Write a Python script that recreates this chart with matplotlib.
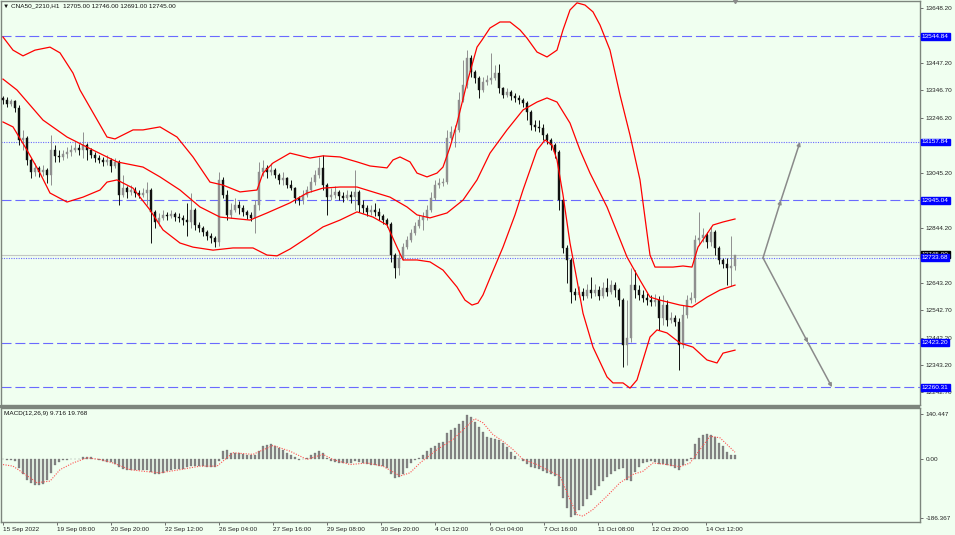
import matplotlib
matplotlib.use("Agg")
import matplotlib.pyplot as plt
from matplotlib.patches import Rectangle
import numpy as np

plt.rcParams["font.family"] = ["Liberation Sans", "DejaVu Sans"]

# ---------------------------------------------------------------------------
# Data (CNA50_2210, H1, 15 Sep - 14 Oct 2022)
# ---------------------------------------------------------------------------
first_open = 13319

close = [
    13311, 13297, 13308, 13282, 13165, 13172, 13092, 13048, 13063, 13048,
    13055, 13037, 13128, 13107, 13103, 13114, 13121, 13128, 13136, 13128,
    13147, 13128, 13110, 13099, 13092, 13085, 13092, 13070, 13085, 12964,
    12989, 12975, 12982, 12971, 12964, 12971, 12982, 12902, 12865, 12880,
    12891, 12887, 12894, 12883, 12880, 12872, 12865, 12909, 12854, 12843,
    12828, 12814, 12807, 12792, 13019, 12964, 12891, 12909, 12927, 12916,
    12902, 12891, 12880, 12927, 13048, 13063, 13048, 13055, 13037, 13019,
    13026, 13000, 12989, 12953, 12945, 12964, 12982, 13011, 13037, 13063,
    13000, 12956, 12964, 12975, 12960, 12953, 12964, 12956, 12975, 12927,
    12916, 12902, 12909, 12902, 12887, 12872, 12858, 12744, 12697, 12733,
    12773, 12799, 12825, 12850, 12872, 12883, 12909, 12953, 13000, 13008,
    13011, 13172, 13194, 13202, 13311, 13366, 13465, 13414, 13392, 13348,
    13377, 13385, 13392, 13410, 13355, 13330, 13341, 13326, 13319, 13311,
    13300, 13268, 13220, 13213, 13209, 13183, 13165, 13147, 13121, 12945,
    12770, 12726, 12609, 12598, 12609, 12594, 12616, 12605, 12616, 12594,
    12623, 12609, 12634, 12616, 12579, 12415, 12440, 12634, 12616, 12598,
    12587, 12579, 12572, 12579, 12514, 12561, 12506, 12514, 12499, 12415,
    12525, 12579, 12587, 12799, 12807, 12817, 12792, 12828, 12770, 12726,
    12711, 12697, 12705, 12745,
]

high = [
    13326, 13322, 13315, 13311, 13293, 13202, 13180, 13099, 13081, 13070,
    13074, 13063, 13183, 13147, 13128, 13128, 13139, 13147, 13158, 13150,
    13194, 13154, 13136, 13121, 13110, 13103, 13110, 13099, 13099, 13092,
    13037, 12997, 13000, 12993, 12982, 12989, 13011, 12989, 12909, 12898,
    12909, 12902, 12909, 12902, 12898, 12891, 12935, 12971, 12916, 12865,
    12850, 12836, 12825, 12814, 13048, 13030, 12982, 12935, 12953, 12942,
    12927, 12909, 12902, 12945, 13085, 13092, 13074, 13081, 13063, 13044,
    13048, 13030, 13019, 12993, 12960, 12982, 12997, 13030, 13055, 13103,
    13110, 13008, 12989, 12997, 12982, 12975, 12982, 12978, 13055, 12982,
    12945, 12927, 12927, 12935, 12916, 12894, 12880, 12865, 12752, 12762,
    12788, 12814, 12839, 12865, 12891, 12902, 12927, 12975, 13019, 13026,
    13026, 13202, 13216, 13220, 13341, 13458, 13494, 13476, 13421, 13399,
    13396, 13403, 13483, 13440, 13443, 13359, 13355, 13348, 13337, 13330,
    13319, 13308, 13275, 13238, 13238, 13224, 13191, 13172, 13154, 13128,
    12953, 12781, 12733, 12623, 12631, 12623, 12638, 12664, 12638, 12631,
    12645, 12660, 12652, 12645, 12623, 12587, 12579, 12697, 12689, 12634,
    12616, 12605, 12598, 12601, 12594, 12598, 12579, 12536, 12525, 12514,
    12561, 12598, 12609, 12817, 12902, 12843, 12828, 12847, 12836, 12777,
    12733, 12733, 12814, 12746,
]

low = [
    13297, 13286, 13290, 13268, 13147, 13128, 13074, 13026, 13033, 13030,
    13033, 13008, 13000, 13085, 13085, 13092, 13099, 13107, 13121, 13110,
    13099, 13092, 13099, 13085, 13081, 13070, 13074, 13048, 13063, 12927,
    12956, 12953, 12964, 12956, 12953, 12956, 12927, 12788, 12843, 12850,
    12872, 12872, 12880, 12869, 12865, 12854, 12814, 12843, 12836, 12828,
    12814, 12799, 12788, 12773, 12777, 12953, 12872, 12880, 12902, 12894,
    12887, 12876, 12869, 12825, 12909, 13033, 13026, 13037, 13026, 13004,
    13000, 12989, 12982, 12935, 12927, 12931, 12956, 12975, 13000, 13026,
    12982, 12891, 12945, 12953, 12945, 12938, 12945, 12935, 12909, 12902,
    12898, 12887, 12891, 12887, 12872, 12858, 12847, 12719, 12660, 12671,
    12726, 12766, 12792, 12817, 12843, 12836, 12872, 12902, 12945, 12989,
    12997, 13004, 13165, 13139, 13194, 13304, 13355, 13396, 13374, 13319,
    13341, 13366, 13370, 13385, 13337, 13319, 13322, 13311, 13304, 13297,
    13286, 13238, 13202, 13198, 13194, 13165, 13150, 13128, 13099, 12909,
    12752, 12642, 12568, 12579, 12590, 12579, 12587, 12587, 12594, 12579,
    12587, 12594, 12601, 12590, 12557, 12334, 12342, 12426, 12587, 12579,
    12572, 12561, 12557, 12557, 12470, 12488, 12484, 12495, 12484, 12323,
    12404, 12514, 12568, 12572, 12781, 12792, 12770, 12777, 12744, 12711,
    12697, 12634, 12631, 12691,
]

# Bollinger band readings: (bar, price)
upper_band = [
    (0, 13542), (2.5, 13494), (5, 13473), (8, 13494), (11.75, 13505),
    (14.25, 13484), (17.5, 13410), (19.25, 13348), (26, 13176), (28, 13169),
    (32.5, 13202), (35, 13202), (39.25, 13213), (43.5, 13176), (47.5, 13103),
    (51.75, 13011), (55, 13000), (59.25, 12975), (63.5, 12982), (65, 13044),
    (67.5, 13081), (71.75, 13117), (76.75, 13099), (80, 13107), (84.25, 13103),
    (88.5, 13085), (91.75, 13070), (96, 13063), (97.5, 13092), (99.25, 13103),
    (101.75, 13085), (103.5, 13044), (106, 13030), (108.5, 13044), (110, 13066),
    (111.75, 13139), (113.5, 13227), (116, 13374), (118.5, 13505), (119.75, 13531),
    (121.75, 13575), (124.25, 13597), (126.75, 13597), (129.25, 13568), (131, 13538),
    (133.5, 13487), (136, 13469), (138.5, 13494), (140, 13568), (141.75, 13641),
    (143.5, 13667), (145.5, 13659), (147.5, 13634), (149.25, 13586), (151.75, 13494),
    (154.25, 13330), (156.75, 13183), (159.25, 13019), (161, 12825), (161.75, 12744),
    (163, 12700), (167.5, 12700), (170, 12704), (172.25, 12700), (173.75, 12773),
    (177.5, 12854), (180, 12865), (183, 12876),
]
middle_band = [
    (0, 13388), (3.5, 13348), (10, 13238), (16, 13176), (21, 13139),
    (28.5, 13085), (35, 13066), (39.25, 13030), (44.25, 12982), (49.25, 12920),
    (54.25, 12883), (61.75, 12872), (66, 12898), (71.75, 12935), (76, 12971),
    (80, 12989), (84.25, 12993), (88.5, 12993), (92.5, 12975), (96.75, 12956),
    (101, 12920), (103.5, 12891), (106.75, 12880), (111, 12898), (115, 12945),
    (118.5, 13019), (121.75, 13117), (126, 13202), (130, 13275), (133.5, 13304),
    (136, 13319), (138.5, 13304), (141.75, 13227), (144.25, 13128), (146.75, 13044),
    (151, 12920), (156, 12737), (159.25, 12652), (161.75, 12590), (164.25, 12579),
    (169.25, 12561), (172.25, 12554), (176, 12590), (179.25, 12616), (183, 12634),
]
lower_band = [
    (0, 13231), (2.5, 13213), (6, 13128), (9.25, 13044), (11.75, 12971),
    (16, 12938), (20, 12956), (24.25, 12982), (26, 13011), (28.5, 13019),
    (32.5, 12989), (36.75, 12909), (40, 12836), (44.25, 12788), (47.5, 12773),
    (52.5, 12762), (57.5, 12770), (62.5, 12770), (66, 12744), (68.5, 12741),
    (71.75, 12766), (76, 12807), (80, 12847), (84.25, 12872), (88.5, 12902),
    (92.5, 12883), (96, 12854), (98.5, 12773), (100, 12726), (103.5, 12726),
    (106.75, 12719), (110, 12689), (113.5, 12627), (115.5, 12579), (117.25, 12561),
    (118.75, 12568), (120, 12598), (121.75, 12660), (125, 12773), (128, 12891),
    (130, 12982), (133.5, 13128), (135.5, 13165), (137.25, 13147), (138.5, 13092),
    (140, 12964), (141.75, 12788), (143.5, 12652), (145, 12531), (147.5, 12407),
    (151, 12298), (152.5, 12276), (155, 12276), (156.75, 12257), (158.5, 12287),
    (160, 12360), (161.75, 12444), (163.5, 12470), (166, 12459), (169.25, 12422),
    (172.5, 12407), (176, 12360), (178.5, 12349), (180, 12385), (183, 12396),
]

# MACD(12,26,9) main line, one value per bar
macd_hist = [
    -3, -4, -5, -8, -30, -50, -68, -78, -82, -82,
    -80, -68, -45, -20, -10, -6, -4, -3, -2, 0,
    4, 5, 4, 0, -5, -8, -10, -12, -16, -26,
    -32, -36, -37, -36, -35, -35, -37, -42, -48, -50,
    -45, -38, -36, -34, -34, -32, -28, -24, -24, -24,
    -25, -26, -27, -26, -8, 25, 28, 18, 17, 16,
    15, 12, 10, 12, 22, 38, 43, 44, 40, 32,
    26, 18, 10, 4, -4, -3, 2, 10, 18, 22,
    16, 2, -8, -12, -13, -14, -14, -13, -8, -10,
    -14, -18, -20, -20, -22, -24, -30, -50, -60, -58,
    -48, -30, -15, -5, 2, 12, 25, 32, 40, 48,
    52, 80, 90, 95, 108, 118, 138, 130, 115, 98,
    82, 68, 64, 62, 58, 50, 36, 20, 8, 0,
    -8, -18, -26, -30, -34, -40, -45, -48, -55, -85,
    -125, -155, -184, -176, -162, -148, -128, -115, -100, -85,
    -70, -58, -48, -38, -32, -30, -66, -70, -42, -26,
    -14, -10, -8, -12, -16, -18, -20, -24, -30, -36,
    -20, -8, 2, 45, 65, 74, 76, 75, 66, 50,
    38, 20, 10, 9.716,
]
macd_signal = [
    (0, -19), (2.5, -24), (5, -45), (8.5, -76), (11.75, -71), (14.25, -35),
    (17.5, -14), (21, 2), (24.25, -3), (27.5, -14), (31.75, -35), (35, -40),
    (39.25, -45), (44.25, -35), (49.25, -24), (53.5, -24), (57.5, 18), (62.5, 13),
    (67.5, 41), (71.75, 23), (76, -3), (80, 13), (82.5, -3), (86.75, -19),
    (91, -14), (95, -24), (99.25, -55), (101.75, -45), (104.25, -14), (108.5, 28),
    (112.5, 60), (116, 102), (118, 125), (120, 112), (122.5, 75), (125, 54),
    (127.5, 28), (130, -3), (133.5, -19), (136.75, -40), (139.25, -55), (141.75, -129),
    (143.5, -176), (145, -181), (147.5, -160), (151, -118), (154.25, -76), (157.5, -50),
    (160, -40), (162.5, -14), (166, -19), (169.25, -26), (171.75, -14), (174.25, 28),
    (176.75, 70), (179.25, 65), (183, 19.768),
]

dashed_levels = [13544.84, 12945.04, 12423.20, 12260.31]
dotted_levels = [13157.84, 12733.68]
bid_price = 12745.00

# projected paths drawn as arrows (bar, price)
up_path = [(190, 12733.68), (194.5, 12945.04), (199.25, 13157.84)]
down_path = [(190, 12733.68), (201.25, 12423.20), (207.25, 12260.31)]

# right price scale; the blank entries sit under the level boxes
price_ticks = [13648.20, 13547.70, 13447.20, 13346.70, 13246.20, 13145.70,
               13045.20, 12944.70, 12844.20, 12743.70, 12643.20, 12542.70,
               12442.20, 12343.20, 12242.70]
price_tick_labels = ["13648.20", "", "13447.20", "13346.70", "13246.20", "",
                     "13045.20", "", "12844.20", "", "12643.20", "12542.70",
                     "12442.20", "12343.20", "12242.70"]
macd_ticks = [140.447, 0.0, -186.367]
macd_tick_labels = ["140.447", "0.00", "-186.367"]

time_tick_bars = [0, 13.5, 27, 40.5, 54, 67.5, 81, 94.5, 108, 121.75,
                  135.25, 148.75, 162.25, 175.75]
time_labels = ["15 Sep 2022", "19 Sep 08:00", "20 Sep 20:00", "22 Sep 12:00",
               "26 Sep 04:00", "27 Sep 16:00", "29 Sep 08:00", "30 Sep 20:00",
               "4 Oct 12:00", "6 Oct 04:00", "7 Oct 16:00", "11 Oct 08:00",
               "12 Oct 20:00", "14 Oct 12:00"]

# ---------------------------------------------------------------------------
BG = "#f0fff0"
FRAME = "#7d857d"
UP_COL = "#8f8f8f"
DN_COL = "#111111"
LEVEL_COL = "#6a6aff"
FS = 4.6

W, H = 955, 535
fig = plt.figure(figsize=(W / 100, H / 100), dpi=100, facecolor=BG)
ax = fig.add_axes([1 / W, 1 - 405 / H, 919 / W, 404 / H], facecolor=BG)
axm = fig.add_axes([1 / W, 1 - 522 / H, 919 / W, 114 / H], facecolor=BG, sharex=ax)
fig.add_artist(Rectangle((0, 1 - 408 / H), 920 / W, 3 / H,
                         transform=fig.transFigure, color=FRAME, lw=0))

c = np.array(close, dtype=float)
h = np.array(high, dtype=float)
l = np.array(low, dtype=float)
o = np.r_[first_open, c[:-1]]
bars = np.arange(len(c))
up = c >= o

# candles
for mask, col in ((up, UP_COL), (~up, DN_COL)):
    ax.vlines(bars[mask], l[mask], h[mask], color=col, lw=0.7, zorder=3)
    ax.bar(bars[mask], c[mask] - o[mask], bottom=o[mask], width=0.5,
           color=col, edgecolor=col, lw=0.3, zorder=3)

# bollinger bands
for band in (upper_band, middle_band, lower_band):
    bx, by = zip(*band)
    ax.plot(bx, by, color="#ff0000", lw=0.9, zorder=4)

# horizontal levels
for lvl in dashed_levels:
    ax.axhline(lvl, color=LEVEL_COL, lw=0.8, ls=(0, (9, 3.5)), zorder=2)
for lvl in dotted_levels:
    ax.axhline(lvl, color=LEVEL_COL, lw=0.8, ls=(0, (1, 1.2)), zorder=2)
ax.axhline(bid_price, color="#c4c8c4", lw=0.8, zorder=1.5)

# projection arrows
for path in (up_path, down_path):
    for start, end in zip(path[:-1], path[1:]):
        ax.annotate("", xy=end, xytext=start,
                    arrowprops=dict(arrowstyle="-|>", color="#8a8a8a", lw=1.1,
                                    mutation_scale=5, shrinkA=0, shrinkB=0),
                    zorder=5)

ax.plot(bars[-1], 1.0, marker="v", ms=3, color="#8a8a8a",
        transform=ax.get_xaxis_transform(), clip_on=False, zorder=6)

# axes limits/ticks
ax.set_xlim(-0.5, 229.25)
ax.set_ylim(12195.2, 13673.8)
ax.yaxis.tick_right()
ax.set_yticks(price_ticks)
ax.set_yticklabels(price_tick_labels)
ax.tick_params(axis="y", length=2.5, width=0.6, color="#555555", labelsize=FS,
               pad=1.5, labelcolor="#222222")
ax.tick_params(axis="x", bottom=False, labelbottom=False)

# price labels on the right scale
tr = ax.get_yaxis_transform()
ax.annotate(f"{bid_price:.2f}", xy=(1, bid_price), xycoords=tr, xytext=(1.3, 0),
            textcoords="offset points", ha="left", va="center", color="white",
            fontsize=FS, annotation_clip=False, zorder=10,
            bbox=dict(boxstyle="square,pad=0.15", fc="black", ec="black"))
for lvl in sorted(dashed_levels + dotted_levels, reverse=True):
    ax.annotate(f"{lvl:.2f}", xy=(1, lvl), xycoords=tr, xytext=(1.3, 0),
                textcoords="offset points", ha="left", va="center", color="white",
                fontsize=FS, annotation_clip=False, zorder=11,
                bbox=dict(boxstyle="square,pad=0.15", fc="#0000ff", ec="#0000ff"))

# MACD panel
axm.bar(bars, macd_hist, width=0.7, color="#858585", edgecolor="#6e6e6e",
        lw=0.2, zorder=3)
sx, sy = zip(*macd_signal)
axm.plot(sx, sy, color="#ff5050", lw=0.8, ls=(0, (1, 1.3)), zorder=4)
axm.set_ylim(-199.4, 158.6)
axm.yaxis.tick_right()
axm.set_yticks(macd_ticks)
axm.set_yticklabels(macd_tick_labels)
axm.tick_params(axis="y", length=2.5, width=0.6, color="#555555", labelsize=FS,
                pad=1.5, labelcolor="#222222")
axm.set_xticks(time_tick_bars)
axm.set_xticklabels(time_labels)
axm.tick_params(axis="x", length=2.5, width=0.6, color="#555555", labelsize=FS,
                pad=1.2, labelcolor="#222222")
for lbl in axm.get_xticklabels():
    lbl.set_horizontalalignment("left")

for a in (ax, axm):
    for sp in a.spines.values():
        sp.set_color(FRAME)
        sp.set_linewidth(1.0)

fig.text(3 / W, 1 - 6 / H, "\u25bc", fontsize=4.5, va="center", ha="left",
         color="#111111")
fig.text(11 / W, 1 - 6 / H, "CNA50_2210,H1  12705.00 12746.00 12691.00 12745.00",
         fontsize=FS, va="center", ha="left", color="#111111")
fig.text(4 / W, 1 - 414 / H, "MACD(12,26,9) 9.716 19.768",
         fontsize=FS, va="center", ha="left", color="#111111")

fig.savefig("out.png", dpi=100, facecolor=BG)
